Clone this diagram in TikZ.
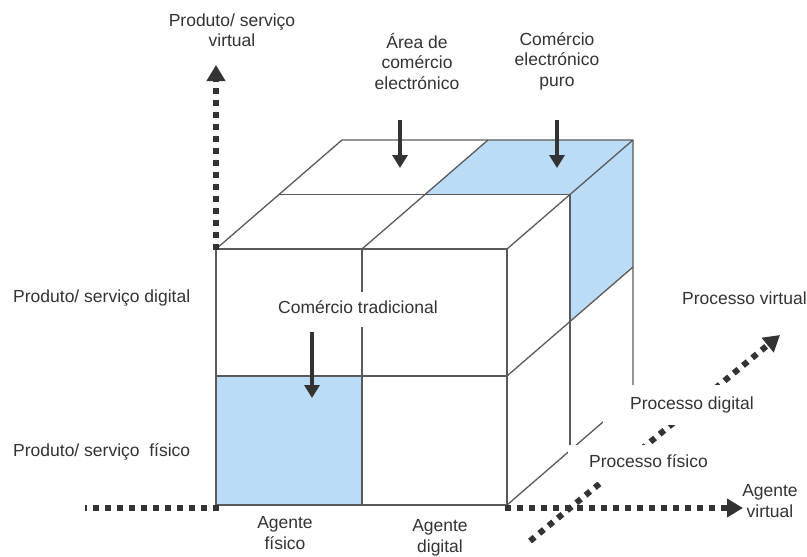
\documentclass[tikz,border=0pt]{standalone}
\usepackage{fontspec}
\setmainfont{Liberation Sans}
\usetikzlibrary{arrows.meta}
\definecolor{ink}{HTML}{333333}
\definecolor{edge}{HTML}{5A5A5A}
\definecolor{cellblue}{HTML}{BADCF7}

\begin{document}
\begin{tikzpicture}[x=1pt,y=-1pt,
  every node/.style={font=\fontsize{17.5}{20.5}\selectfont, text=ink},
  edgeline/.style={draw=edge, line width=1.3pt, line join=round},
  pointer/.style={draw=ink, line width=4.5pt, -{Triangle[width=15pt,length=13pt]}},
  axis/.style={draw=ink, line width=6pt, dash pattern=on 6pt off 6pt},
  axisarrow/.style={axis, -{Triangle[width=18pt,length=16pt]}},
  lbl/.style={align=center, inner sep=0pt},
  mask/.style={fill=white, inner sep=0pt, text height=12.5pt, text depth=3.7pt}
]
\useasboundingbox (0,0) rectangle (807,557);

% cube corners and cell dividers
\coordinate (F1) at (216,249);
\coordinate (F2) at (507,249);
\coordinate (F3) at (507,505);
\coordinate (F4) at (216,505);
\coordinate (B1) at (342,140);
\coordinate (B2) at (633,140);
\coordinate (B3) at (633,396);
\coordinate (M1) at (279,194.5);
\coordinate (M2) at (570,194.5);
\coordinate (M3) at (570,450.5);
\coordinate (FT) at (362,249);
\coordinate (FB) at (362,505);
\coordinate (FL) at (216,376);
\coordinate (FR) at (507,376);
\coordinate (BT) at (488,140);
\coordinate (MT) at (425.5,194.5);
\coordinate (BR) at (633,267);
\coordinate (MR) at (570,321.5);

% shaded cells
\fill[cellblue] (FL) rectangle (FB);
\fill[cellblue] (MT) -- (M2) -- (B2) -- (BT) -- cycle;
\fill[cellblue] (M2) -- (B2) -- (BR) -- (MR) -- cycle;

% cube edges
\draw[edgeline] (F1) rectangle (F3);
\draw[edgeline] (FT) -- (FB) (FL) -- (FR);
\draw[edgeline] (F1) -- (B1) -- (B2) -- (F2);
\draw[edgeline] (M1) -- (M2) -- (M3);
\draw[edgeline] (FT) -- (BT);
\draw[edgeline] (B2) -- (B3) -- (F3);
\draw[edgeline] (FR) -- (BR);

% dotted axes
\coordinate (vtop) at (216,65);
\coordinate (vbase) at (216,250);
\coordinate (hleft) at (85,508);
\coordinate (hmid) at (219,508);
\coordinate (hstart) at (505,508);
\coordinate (hright) at (743,508);
\coordinate (dstart) at (530,541);
\coordinate (dtip) at (780,335);
\draw[axisarrow] (vbase) -- (vtop);
\draw[axis] (hmid) -- (hleft);
\draw[axisarrow] (hstart) -- (hright);
\draw[axisarrow] (dstart) -- (dtip);

% labels with white backing
\node[mask, anchor=west, minimum height=37pt] (pf) at (568,463.5) {\hspace*{21pt}Processo físico\hspace*{4pt}};
\node[mask, anchor=west, minimum height=40pt] (pd) at (603,405) {\hspace*{27pt}Processo digital\hspace*{8pt}};
\node[mask, minimum height=35pt, inner xsep=6pt] (ct) at (358,309.5) {Comércio tradicional};

% pointers
\coordinate (p1s) at (400,120);
\coordinate (p1e) at (400,168);
\coordinate (p2s) at (557,120);
\coordinate (p2e) at (557,168);
\coordinate (p3s) at (312,332);
\coordinate (p3e) at (312,398);
\draw[pointer] (p1s) -- (p1e);
\draw[pointer] (p2s) -- (p2e);
\draw[pointer] (p3s) -- (p3e);

% texts
\node[lbl] (pv) at (232,30) {Produto/ serviço\\virtual};
\node[lbl] (ae) at (417,61) {Área de\\comércio\\electrónico};
\node[lbl] (cp) at (557,61) {Comércio\\electrónico\\puro};
\node[lbl, anchor=west] (psd) at (13,298) {Produto/ serviço digital};
\node[lbl, anchor=west] (psf) at (13,452) {Produto/ serviço\ \ físico};
\node[lbl, anchor=west] (pvir) at (682,298) {Processo virtual};
\node[lbl] (af) at (285,533) {Agente\\físico};
\node[lbl] (ad) at (440,538) {Agente\\digital};
\node[lbl] (av) at (770,501) {Agente\\virtual};
\end{tikzpicture}
\end{document}
